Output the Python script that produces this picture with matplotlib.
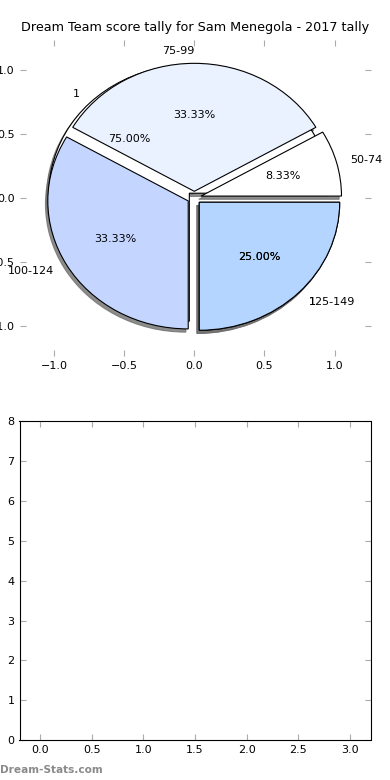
import matplotlib
matplotlib.use("Agg")
import matplotlib.pyplot as plt

# score bands and how many rounds fell in each
bands = ["50-74", "75-99", "100-124", "125-149"]
counts = [1, 4, 4, 3]
band_colors = ["white", "#eaf1ff", "#c4d6ff", "#b4d5ff"]

# second (stray) pie that sits underneath
extra_labels = ["1", "1"]
extra_counts = [3, 1]
extra_colors = ["white", "#eaf1ff"]

title = "Dream Team score tally for Sam Menegola - 2017 tally"

plt.rcParams["font.size"] = 8
fig = plt.figure(figsize=(3.9, 7.8), dpi=100)

shadow_style = {"ox": -0.012, "oy": -0.018, "facecolor": "#707070",
                "edgecolor": "#707070", "alpha": 0.8}

ax1 = fig.add_axes([0.05, 0.544, 0.9, 0.405])
ax1.pie(extra_counts, labels=extra_labels, colors=extra_colors,
        explode=[0.05] * len(extra_counts), autopct="%1.2f%%",
        shadow=shadow_style,
        wedgeprops={"linewidth": 0.8, "edgecolor": "black"})
ax1.pie(counts, labels=bands, colors=band_colors,
        explode=[0.05] * len(counts), autopct="%1.2f%%",
        shadow=shadow_style,
        wedgeprops={"linewidth": 0.8, "edgecolor": "black"})
ax1.set_aspect("auto")
for s in ax1.spines.values():
    s.set_visible(False)
ax1.set_xlim(-1.245, 1.255)
ax1.set_ylim(-1.234, 1.234)
ax1.set_xticks([-1.0, -0.5, 0.0, 0.5, 1.0])
ax1.set_yticks([-1.0, -0.5, 0.0, 0.5, 1.0])
ax1.set_title(title, fontsize=9.2, pad=6)

ax2 = fig.add_axes([0.05, 0.051, 0.9, 0.409])
ax2.set_xlim(-0.2, 3.2)
ax2.set_ylim(0, 8)
ax2.set_xticks([0.0, 0.5, 1.0, 1.5, 2.0, 2.5, 3.0])
ax2.set_yticks(range(0, 9))

for ax in (ax1, ax2):
    ax.tick_params(direction="in", top=True, right=True, length=4,
                   color="#aaaaaa", labelsize=8, labelcolor="black")

fig.text(0.0, 0.006, "Dream-Stats.com", color="#8a8a8a", fontsize=7.6,
         fontweight="bold", ha="left", va="bottom")

fig.savefig("out.png", dpi=100)
